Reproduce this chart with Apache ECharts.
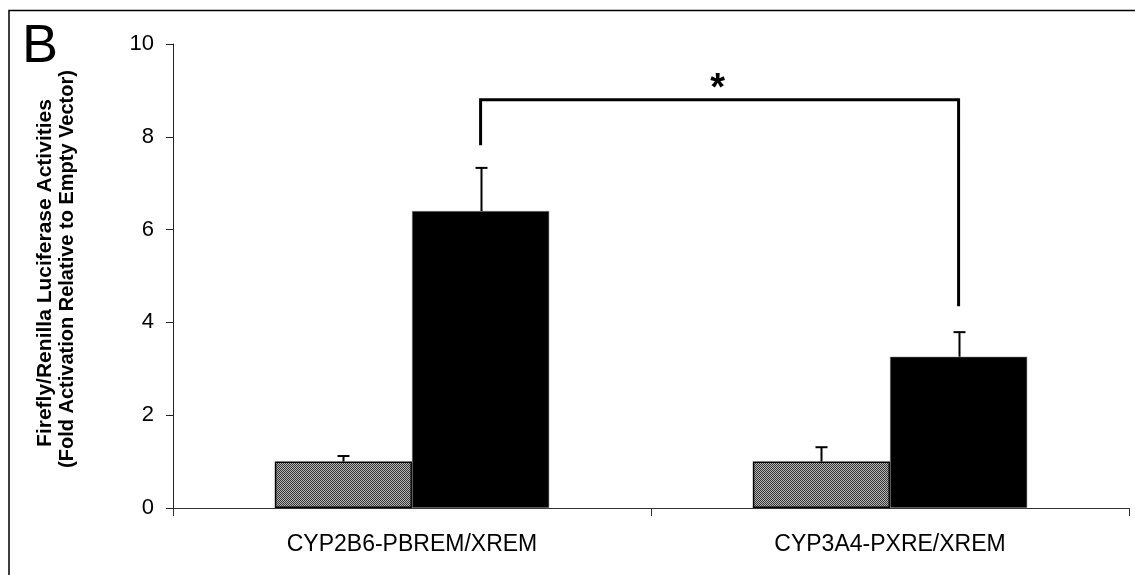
<!DOCTYPE html>
<html>
<head>
<meta charset="utf-8">
<script src="https://cdn.jsdelivr.net/npm/echarts@6/dist/echarts.min.js"></script>
<style>
html,body{margin:0;padding:0;background:#fff;}
#chart{width:1135px;height:575px;}
</style>
</head>
<body>
<div id="chart"></div>
<script>
// ---- data ----
var categories = ['CYP2B6-PBREM/XREM', 'CYP3A4-PXRE/XREM'];
var controlValues = [1.0, 1.0];
var controlErrors = [0.12, 0.31];
var treatedValues = [6.4, 3.26];
var treatedErrors = [0.93, 0.53];
var yTicks = [0, 2, 4, 6, 8, 10];
// significance bracket between the treated bars: [top, left leg bottom, right leg bottom]
var bracketTop = 8.8;
var bracketLegBottoms = [7.82, 4.35];
var bracketLabel = '*';
var panelLabel = 'B';
var yTitleLines = ['Firefly/Renilla Luciferase Activities', '(Fold Activation Relative to Empty Vector)'];

var FONT = '"Liberation Sans", Arial, sans-serif';
var BAR_FRAC = 0.287;

// checkered grey fill
var pat = document.createElement('canvas');
pat.width = 2; pat.height = 2;
var pc = pat.getContext('2d');
pc.fillStyle = '#b8b8b8'; pc.fillRect(0, 0, 2, 2);
pc.fillStyle = '#333333'; pc.fillRect(0, 0, 1, 1); pc.fillRect(1, 1, 1, 1);

function errData(vals, errs) {
  return vals.map(function (v, i) { return [i, v, errs[i]]; });
}

function makeErrRender(sign) {
  return function (params, api) {
    var band = api.size([1, 0])[0];
    var off = sign * band * BAR_FRAC / 2;
    var c = api.value(0), v = api.value(1), e = api.value(2);
    var p0 = api.coord([c, v]);
    var p1 = api.coord([c, v + e]);
    var x = Math.round(p0[0] + off) + 0.5;
    var st = { stroke: '#000', lineWidth: 2 };
    return {
      type: 'group',
      children: [
        { type: 'line', shape: { x1: x, y1: p0[1], x2: x, y2: p1[1] }, style: st },
        { type: 'line', shape: { x1: x - 6, y1: p1[1], x2: x + 6, y2: p1[1] }, style: st }
      ]
    };
  };
}

var chart = echarts.init(document.getElementById('chart'), null, { renderer: 'canvas' });

var option = {
  backgroundColor: '#fff',
  animation: false,
  textStyle: { fontFamily: FONT },
  grid: { left: 173, right: 6, top: 44, bottom: 67 },
  xAxis: {
    type: 'category',
    data: categories,
    axisLine: { lineStyle: { color: '#333', width: 1 } },
    axisTick: { show: true, length: 8, lineStyle: { color: '#333' } },
    axisLabel: { color: '#000', fontSize: 23, fontFamily: FONT, margin: 25 }
  },
  yAxis: {
    type: 'value',
    min: yTicks[0],
    max: yTicks[yTicks.length - 1],
    interval: yTicks[1] - yTicks[0],
    axisLine: { show: true, lineStyle: { color: '#222', width: 1 } },
    axisTick: { show: true, length: 7, lineStyle: { color: '#222' } },
    axisLabel: { color: '#000', fontSize: 22, fontFamily: FONT, margin: 19 },
    splitLine: { show: false }
  },
  graphic: [
    { type: 'rect', shape: { x: 9, y: 10.5, width: 1200, height: 700 },
      style: { fill: 'none', stroke: '#000', lineWidth: 1.5 }, silent: true, z: 100 },
    { type: 'text', x: 22, y: 20, style: { text: panelLabel, fontSize: 54, fontFamily: FONT, fill: '#000' } },
    { type: 'text', x: 45, y: 273, rotation: Math.PI / 2,
      style: { text: yTitleLines[0], fontSize: 21, fontWeight: 'bold', fontFamily: FONT, fill: '#000',
               textAlign: 'center', textVerticalAlign: 'middle' } },
    { type: 'text', x: 67, y: 269, rotation: Math.PI / 2,
      style: { text: yTitleLines[1], fontSize: 20, fontWeight: 'bold', fontFamily: FONT, fill: '#000',
               textAlign: 'center', textVerticalAlign: 'middle' } }
  ],
  series: [
    {
      type: 'bar',
      data: controlValues,
      barWidth: (BAR_FRAC * 100) + '%',
      barGap: '0%',
      itemStyle: { color: { image: pat, repeat: 'repeat' }, borderColor: '#000', borderWidth: 1.5 }
    },
    {
      type: 'bar',
      data: treatedValues,
      barWidth: (BAR_FRAC * 100) + '%',
      barGap: '0%',
      itemStyle: { color: '#000', borderColor: '#888', borderWidth: 0.5 }
    },
    {
      type: 'custom',
      data: errData(controlValues, controlErrors),
      renderItem: makeErrRender(-1),
      encode: { x: 0, y: 1 },
      z: 5
    },
    {
      type: 'custom',
      data: errData(treatedValues, treatedErrors),
      renderItem: makeErrRender(1),
      encode: { x: 0, y: 1 },
      z: 5
    },
    {
      type: 'custom',
      data: [[0, bracketTop, bracketLegBottoms[0], bracketLegBottoms[1]]],
      encode: { x: 0, y: 1 },
      z: 6,
      renderItem: function (params, api) {
        var band = api.size([1, 0])[0];
        var off = band * BAR_FRAC / 2;
        var top = api.value(1);
        var a = api.coord([0, top]);
        var b = api.coord([1, top]);
        var la = api.coord([0, api.value(2)]);
        var lb = api.coord([1, api.value(3)]);
        var xa = a[0] + off, xb = b[0] + off;
        var st = { stroke: '#000', lineWidth: 3, lineJoin: 'miter', fill: 'none' };
        return {
          type: 'group',
          children: [
            { type: 'polyline', shape: { points: [[xa, la[1]], [xa, a[1]], [xb, b[1]], [xb, lb[1]]] }, style: st },
            { type: 'text', style: { text: bracketLabel, x: (xa + xb) / 2 - 2, y: a[1] + 9,
              textAlign: 'center', textVerticalAlign: 'bottom', fontSize: 38, fontWeight: 'bold', fontFamily: FONT, fill: '#000' } }
          ]
        };
      }
    }
  ]
};
chart.setOption(option);
</script>
</body>
</html>
